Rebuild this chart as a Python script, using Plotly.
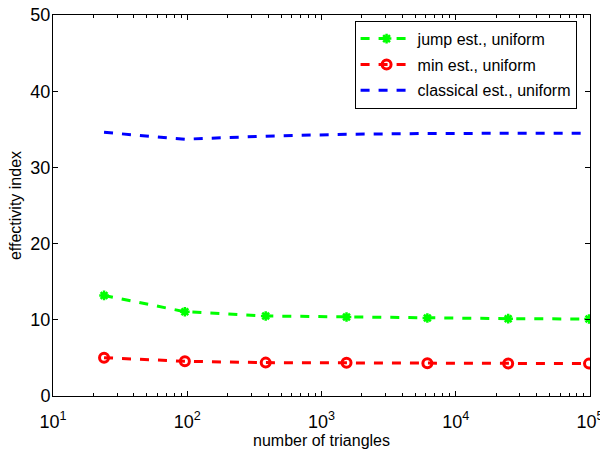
import plotly.graph_objects as go

triangles = [24, 96, 384, 1536, 6144, 24576, 98304]
jump_est = [13.2, 11.06, 10.5, 10.37, 10.24, 10.15, 10.1]
min_est = [5.03, 4.55, 4.38, 4.35, 4.3, 4.28, 4.25]
classical_est = [34.6, 33.7, 34.1, 34.35, 34.45, 34.5, 34.5]

x_tickvals = [10, 100, 1000, 10000, 100000]
x_ticktext = ["10<sup>1</sup>", "10<sup>2</sup>", "10<sup>3</sup>", "10<sup>4</sup>", "10<sup>5</sup>"]
y_tickvals = [0, 10, 20, 30, 40, 50]

minor_vals = [m * 10 ** e for e in range(1, 5) for m in range(2, 10)]

fig = go.Figure()
fig.add_trace(go.Scatter(
    x=triangles, y=jump_est, name="jump est., uniform", mode="lines+markers", legendgroup="a",
    line=dict(color="#00ff00", width=3, dash="dash"),
    marker=dict(symbol="asterisk-open", size=8, line=dict(color="#00ff00", width=2.5), color="#00ff00"),
))
fig.add_trace(go.Scatter(
    x=triangles, y=min_est, name="min est., uniform", mode="lines+markers", legendgroup="b",
    line=dict(color="#ff0000", width=3, dash="dash"),
    marker=dict(symbol="circle-open", size=9, line=dict(color="#ff0000", width=3), color="#ff0000"),
))
fig.add_trace(go.Scatter(
    x=triangles, y=classical_est, name="classical est., uniform", mode="lines", legendgroup="c",
    line=dict(color="#0000ff", width=3, dash="dash"),
))

font_family = "Liberation Sans, Arial, sans-serif"
fig.update_layout(
    width=600, height=450,
    margin=dict(l=53, r=10, t=15, b=54),
    paper_bgcolor="white", plot_bgcolor="white",
    font=dict(family=font_family, size=14, color="black"),
    showlegend=True,
    legend=dict(
        x=0.975, y=0.985, xanchor="right", yanchor="top",
        bordercolor="black", borderwidth=1, bgcolor="white",
        font=dict(family=font_family, size=16, color="black"),
        tracegroupgap=2, itemwidth=52,
    ),
    xaxis=dict(
        type="log", range=[1, 5], automargin=False,
        tickvals=x_tickvals, ticktext=x_ticktext, ticklabeloverflow="allow",
        ticks="inside", ticklen=5, tickcolor="black", ticklabelstandoff=9,
        showline=True, linecolor="black", linewidth=1, mirror="allticks",
        showgrid=False, zeroline=False,
        minor=dict(ticks="inside", ticklen=3, tickcolor="black", tickvals=minor_vals, showgrid=False),
        title=dict(text="number of triangles", font=dict(size=16), standoff=4),
        tickfont=dict(size=18),
    ),
    yaxis=dict(
        range=[0, 50], tickvals=y_tickvals, automargin=False,
        ticks="inside", ticklen=5, tickcolor="black", ticklabelstandoff=-2,
        showline=True, linecolor="black", linewidth=1, mirror="allticks",
        showgrid=False, zeroline=False,
        title=dict(text="effectivity index", font=dict(size=16), standoff=4),
        tickfont=dict(size=18),
    ),
)

fig.write_html(
    "out.html",
    config={"displayModeBar": False},
    post_script="document.body.style.margin='0';document.body.style.overflow='hidden';",
)
